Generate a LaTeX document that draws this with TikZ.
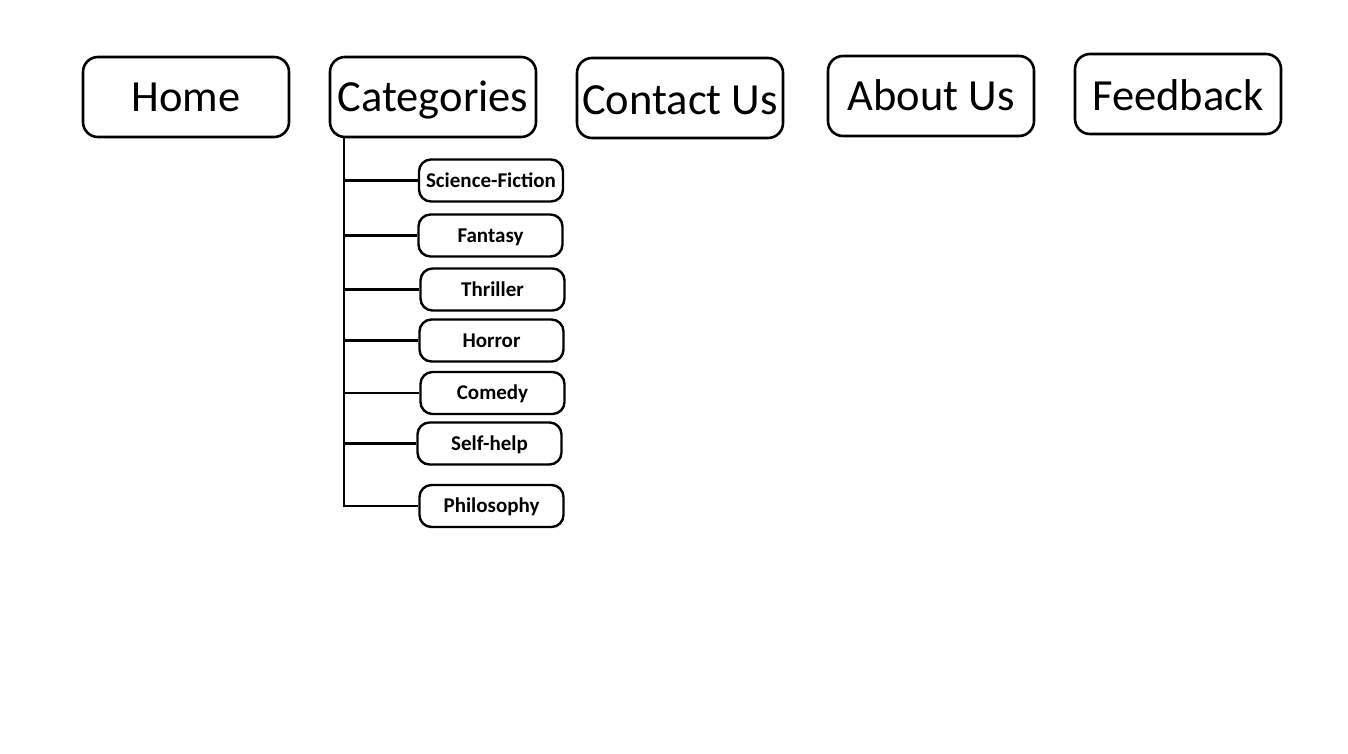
\documentclass[tikz,border=0pt]{standalone}
\usepackage{fontspec}
\setmainfont{Carlito}
\begin{document}
\begin{tikzpicture}[x=1pt,y=-1pt,
  topbox/.style={draw,line width=2.6pt,rounded corners=15pt,minimum width=206pt,minimum height=80pt,inner sep=0pt,text height=28.5pt,text depth=0pt,font=\fontsize{44.5}{50}\selectfont},
  subbox/.style={draw,line width=2.4pt,rounded corners=12pt,minimum width=144pt,minimum height=42pt,inner sep=0pt,text height=13.5pt,text depth=0pt,font=\bfseries\fontsize{21}{25}\selectfont},
  link/.style={line width=2.5pt}]
\useasboundingbox (0,0) rectangle (1348,753);
\node[topbox] (home) at (186,97) {Home};
\node[topbox] (cat) at (433,97) {Categories};
\node[topbox,text height=32.5pt] (contact) at (680,98) {Contact Us};
\node[topbox] (about) at (931,96) {About Us};
\node[topbox,text height=32.5pt] (feed) at (1178,94) {Feedback};
\node[subbox] (sf) at (491,180.5) {Science-Fiction};
\node[subbox] (fan) at (490.5,235.5) {Fantasy};
\node[subbox] (thr) at (492.5,289.5) {Thriller};
\node[subbox] (hor) at (491.5,340.5) {Horror};
\node[subbox] (com) at (492.5,393) {Comedy};
\node[subbox] (self) at (489.5,443.5) {Self-help};
\node[subbox] (phil) at (491.5,506) {Philosophy};
\coordinate (trunk) at (344,138);
\draw[link] (trunk) |- (phil.west);
\foreach \n in {sf,fan,thr,hor,com,self}{
  \draw[link] (trunk |- \n.west) -- (\n.west);
}
\end{tikzpicture}
\end{document}
